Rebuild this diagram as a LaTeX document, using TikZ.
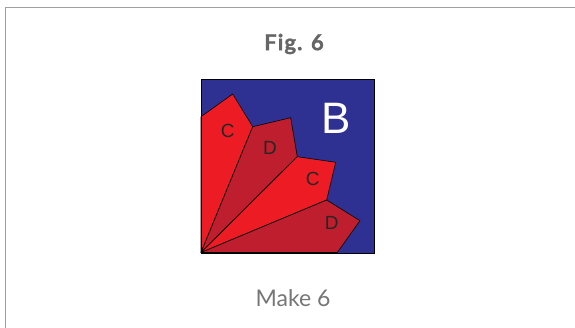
\documentclass[tikz,border=0pt]{standalone}
\usepackage{fontspec}
\setmainfont{Lato}
\newfontfamily\lblfont{Liberation Sans}
\newfontfamily\figfont[LetterSpace=5,FakeBold=1.5]{Lato Bold}
\definecolor{qblue}{HTML}{2E3192}
\definecolor{qred}{HTML}{ED1C24}
\definecolor{qdark}{HTML}{BE1E2D}
\definecolor{qgray}{HTML}{666666}
\definecolor{qgrayb}{HTML}{767676}
\begin{document}
\begin{tikzpicture}[x=1pt,y=-1pt,
  petal/.style={draw=black,line width=0.6pt,line join=round},
  lbl/.style={font=\lblfont\fontsize{19}{19}\selectfont,text=black!85},
  frameline/.style={draw=gray!75,line width=1.6pt}]
\useasboundingbox (0,0) rectangle (575,328);
\draw[frameline] (5.5,328) -- (5.5,7.5) -- (575,7.5);
\node[font=\figfont\fontsize{22}{22}\selectfont,text=qgray] (title) at (294,44) {Fig. 6};
\node[font=\fontsize{23}{23}\selectfont,text=qgrayb] (cap) at (293,298) {Make 6};
\fill[qblue] (201,79) rectangle (374,253);
\coordinate (p) at (201,252.5);
\filldraw[petal,fill=qred] (p) -- (201,116.7) -- (232.7,94) -- (252.7,126.7) -- cycle;
\filldraw[petal,fill=qdark] (p) -- (252.7,126.7) -- (290.7,117.7) -- (297.3,156.7) -- cycle;
\filldraw[petal,fill=qred] (p) -- (297.3,156.7) -- (335.7,162.3) -- (326.7,200) -- cycle;
\filldraw[petal,fill=qdark] (p) -- (326.7,200) -- (360,220.7) -- (337.3,252.5) -- cycle;
\draw[line width=0.8pt] (201,79) rectangle (374,253);
\node[lbl] (c1) at (227.7,131) {C};
\node[lbl] (d1) at (270,147.7) {D};
\node[lbl] (c2) at (312.7,179.3) {C};
\node[lbl] (d2) at (331.7,222.7) {D};
\node[font=\lblfont\fontsize{44}{44}\selectfont,text=white] (b) at (335.7,118.3) {B};
\end{tikzpicture}
\end{document}
